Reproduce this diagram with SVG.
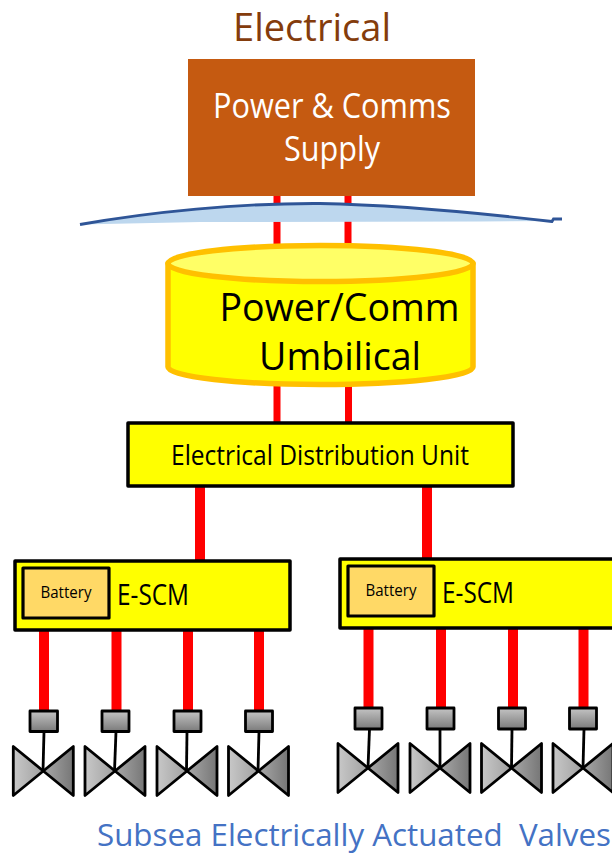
<svg xmlns="http://www.w3.org/2000/svg" width="612" height="855" viewBox="0 0 612 855">
<style>
text{font-family:"Open Sans","Noto Sans","Liberation Sans",sans-serif;fill:#000}
.w{stroke:#f00;fill:none}
.box{fill:#ff0;stroke:#000;stroke-width:3.5;stroke-linejoin:round}
.bat{fill:#ffd966;stroke:#000;stroke-width:3.2;stroke-linejoin:round}
.act{fill:url(#ga);stroke:#000;stroke-width:2.8;stroke-linejoin:round}
.vl{fill:url(#gl);stroke:#000;stroke-width:2.8;stroke-linejoin:round}
.vr{fill:url(#gr);stroke:#000;stroke-width:2.8;stroke-linejoin:round}
.st{stroke:#000;stroke-width:2.8;fill:none}
</style>
<defs>
<linearGradient id="ga" x1="0" y1="0" x2="0" y2="1"><stop offset="0" stop-color="#c4c4c4"/><stop offset="1" stop-color="#7a7a7a"/></linearGradient>
<linearGradient id="gl" x1="0" y1="0" x2="1" y2="0"><stop offset="0" stop-color="#c8c8c8"/><stop offset="1" stop-color="#a0a0a0"/></linearGradient>
<linearGradient id="gr" x1="0" y1="0" x2="1" y2="0"><stop offset="0" stop-color="#a8a8a8"/><stop offset="1" stop-color="#767676"/></linearGradient>
<g id="valve">
<path class="vl" d="M0 0L-30 -24.500V24.500Z"/>
<path class="vr" d="M0 0L30 -24.500V24.500Z"/>
</g>
</defs>
<g id="connectors">
<path class="w" stroke-width="7" d="M277 190V250M348 190V250M277 380V425M348.500 380V425"/>
<path class="w" stroke-width="10" d="M200 485V562M427 485V560M44 630V712M116.500 630V712M188 630V712M259 630V712M368.500 628V709M441 628V709M513 628V709M583.500 628V709"/>
</g>
<text id="title" x="312" y="41" font-size="39" text-anchor="middle" style="fill:#843c0c" textLength="158" lengthAdjust="spacingAndGlyphs">Electrical</text>
<g id="supply">
<rect x="188" y="59" width="287" height="137" fill="#c55a11"/>
<text x="332" y="118" font-size="35" text-anchor="middle" style="fill:#fff" textLength="238" lengthAdjust="spacingAndGlyphs">Power &amp; Comms</text>
<text x="332" y="161" font-size="35" text-anchor="middle" style="fill:#fff" textLength="96" lengthAdjust="spacingAndGlyphs">Supply</text>
</g>
<g id="sea-surface">
<path d="M80 224.500C150 212 240 203 320 203.500C400 205 480 213 553 221L480 221.500L200 222Z" fill="#bdd7ee"/>
<path d="M80 224.500C150 212 240 203 320 203.500C400 205 480 213 552 221.500L553.500 219H562" fill="none" stroke="#2f5597" stroke-width="2.800"/>
</g>
<g id="umbilical">
<path d="M168 263.500V367C168 377 240 384.500 320.500 384.500C401 384.500 473 377 473 367V263.500Z" fill="#ff0" stroke="#ffc000" stroke-width="5.500" stroke-linejoin="round"/>
<ellipse cx="320.500" cy="263.500" rx="152.500" ry="18" fill="#ffff66" stroke="#ffc000" stroke-width="5.500"/>
<text x="339.500" y="321" font-size="39" text-anchor="middle" textLength="240" lengthAdjust="spacingAndGlyphs">Power/Comm</text>
<text x="340" y="370" font-size="39" text-anchor="middle" textLength="162" lengthAdjust="spacingAndGlyphs">Umbilical</text>
</g>
<g id="distribution-unit">
<rect class="box" x="128" y="423" width="385" height="63"/>
<text x="320" y="465" font-size="27.500" text-anchor="middle" textLength="298" lengthAdjust="spacingAndGlyphs">Electrical Distribution Unit</text>
</g>
<g id="escm-1">
<rect class="box" x="15" y="561" width="275" height="69"/>
<rect class="bat" x="23" y="568" width="86" height="50"/>
<text x="66" y="598" font-size="16.500" text-anchor="middle" textLength="51" lengthAdjust="spacingAndGlyphs">Battery</text>
<text x="117" y="605" font-size="29" textLength="72" lengthAdjust="spacingAndGlyphs">E-SCM</text>
</g>
<g id="escm-2">
<rect class="box" x="340" y="559" width="280" height="69"/>
<rect class="bat" x="348" y="566" width="86" height="50"/>
<text x="391" y="596" font-size="16.500" text-anchor="middle" textLength="51" lengthAdjust="spacingAndGlyphs">Battery</text>
<text x="442" y="603" font-size="29" textLength="72" lengthAdjust="spacingAndGlyphs">E-SCM</text>
</g>
<g id="valve-1"><rect class="act" x="30" y="711" width="27.500" height="20.500"/><path class="st" d="M44 731.500L43 771"/><use href="#valve" x="43.300" y="771"/></g>
<g id="valve-2"><rect class="act" x="102" y="711" width="27" height="20.500"/><path class="st" d="M116 731.500L114.500 771"/><use href="#valve" x="115" y="771"/></g>
<g id="valve-3"><rect class="act" x="174" y="711" width="27" height="20.500"/><path class="st" d="M187 731.500L186.500 771"/><use href="#valve" x="187" y="771"/></g>
<g id="valve-4"><rect class="act" x="245.500" y="711" width="27" height="20.500"/><path class="st" d="M259 731.500L258 771"/><use href="#valve" x="258.500" y="771"/></g>
<g id="valve-5"><rect class="act" x="355" y="708" width="27" height="21"/><path class="st" d="M369.500 729L368 768"/><use href="#valve" x="368" y="768"/></g>
<g id="valve-6"><rect class="act" x="427" y="708" width="27" height="21"/><path class="st" d="M440 729V768"/><use href="#valve" x="440" y="768"/></g>
<g id="valve-7"><rect class="act" x="498.500" y="708" width="27" height="21"/><path class="st" d="M512 729L511.500 768"/><use href="#valve" x="511.500" y="768"/></g>
<g id="valve-8"><rect class="act" x="569.500" y="708" width="27" height="21"/><path class="st" d="M584 729L583 768"/><use href="#valve" x="583" y="768"/></g>
<text id="caption" x="97" y="846" font-size="30.500" style="fill:#4472c4" textLength="514" lengthAdjust="spacingAndGlyphs" xml:space="preserve">Subsea Electrically Actuated  Valves</text>
</svg>
